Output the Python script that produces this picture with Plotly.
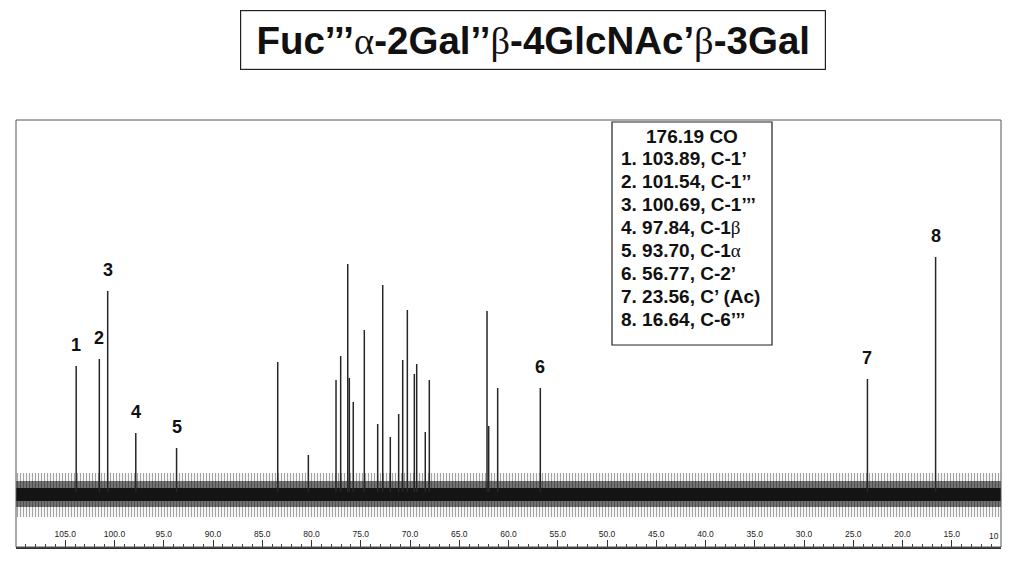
import plotly.graph_objects as go

# ---------------- data ----------------
peak_labels = ["1", "2", "3", "4", "5", "6", "7", "8"]
peak_ppm = [103.89, 101.54, 100.69, 97.84, 93.70, 56.77, 23.56, 16.64]
peak_height = [126, 133, 201, 59, 44, 104, 113, 235]

other_ppm = [83.43, 80.32, 77.51, 77.04, 76.32, 76.16, 75.76, 74.64, 73.28, 72.77,
             72.00, 71.15, 70.74, 70.27, 69.56, 69.32, 68.45, 68.04, 62.18, 62.01, 61.10]
other_height = [130, 37, 112, 136, 228, 114, 90, 162, 68, 207,
                55, 78, 132, 182, 118, 128, 60, 112, 181, 66, 104]

GREEK = "<span style='font-family:Liberation Serif;font-weight:normal'>{}</span>"
title_text = ("Fuc’’’" + GREEK.format("α") + "-2Gal’’" + GREEK.format("β")
              + "-4GlcNAc’" + GREEK.format("β") + "-3Gal")

assign_header = "176.19 CO"
assign_lines = [
    "1. 103.89, C-1’",
    "2. 101.54, C-1’’",
    "3. 100.69, C-1’’’",
    "4. 97.84, C-1" + GREEK.format("β"),
    "5. 93.70, C-1" + GREEK.format("α"),
    "6. 56.77, C-2’",
    "7. 23.56, C’ (Ac)",
    "8. 16.64, C-6’’’",
]

tick_vals = [105, 100, 95, 90, 85, 80, 75, 70, 65, 60, 55, 50, 45, 40, 35, 30, 25, 20, 15, 10]
tick_text = ["105.0", "100.0", "95.0", "90.0", "85.0", "80.0", "75.0", "70.0", "65.0", "60.0",
             "55.0", "50.0", "45.0", "40.0", "35.0", "30.0", "25.0", "20.0", "15.0", "10"]

x_range = [110, 10]
y_range = [-55, 372]
# baseline-noise envelope (outer spikes, dense part, solid core)
noise_outer = (-25, 19)
noise_mid = (-15, 11)
noise_inner = (-9, 4)

# ---------------- figure ----------------
# the page body has an 8 px margin; lay out in window pixels
OFF = 8
W, H = 1024 - 2 * OFF, 565 - 2 * OFF
def px(x):
    return (x - OFF) / W
def py(y):
    return 1 - (y - OFF) / H

FONT = "Arial, Liberation Sans"
fig = go.Figure()

def band(lo_hi, color, pattern=None):
    lo, hi = lo_hi
    kw = {}
    if pattern:
        kw["fillpattern"] = pattern
    fig.add_trace(go.Scatter(
        x=[x_range[0], x_range[1], x_range[1], x_range[0], x_range[0]],
        y=[lo, lo, hi, hi, lo], fill="toself", fillcolor=color,
        line=dict(width=0), mode="lines", hoverinfo="skip", showlegend=False, **kw))

band(noise_outer, "#ffffff", dict(shape="|", size=3, solidity=0.4,
                                  fgcolor="#4a4a4a", bgcolor="#ffffff"))
band(noise_mid, "#505050", dict(shape="|", size=3, solidity=0.6,
                                fgcolor="#111111", bgcolor="#8a8a8a"))
band(noise_inner, "#141414")

def sticks(ppm, hts):
    xs, ys = [], []
    for p, h in zip(ppm, hts):
        xs += [p, p, None]
        ys += [0, h, None]
    return xs, ys

xs, ys = sticks(other_ppm + peak_ppm, other_height + peak_height)
fig.add_trace(go.Scatter(x=xs, y=ys, mode="lines",
                         line=dict(color="#262626", width=1.5),
                         hoverinfo="skip", showlegend=False))

annotations = []
for lab, p, h in zip(peak_labels, peak_ppm, peak_height):
    annotations.append(dict(x=p, y=h + 21, xref="x", yref="y", text=lab,
                            showarrow=False, yanchor="middle",
                            font=dict(family=FONT, size=18, color="#111", weight="bold")))

# last (cut-off) tick label at the right edge of the frame
annotations.append(dict(x=tick_vals[-1], y=0, xref="x", yref="y domain",
                        text=tick_text[-1], showarrow=False,
                        xanchor="right", yanchor="bottom", yshift=4,
                        font=dict(family=FONT, size=8.5, color="#222")))

# Title box
annotations.append(dict(x=px(533), y=py(10), xref="paper", yref="paper",
                        xanchor="center", yanchor="top",
                        text=title_text, showarrow=False,
                        width=572, height=46, borderpad=6,
                        bordercolor="#222", borderwidth=1.2,
                        font=dict(family=FONT, size=38.5, color="#111", weight="bold")))

# Assignment list
annotations.append(dict(x=px(692), y=py(136), xref="paper", yref="paper",
                        text=assign_header, showarrow=False,
                        xanchor="center", yanchor="middle",
                        font=dict(family=FONT, size=19, color="#111", weight="bold")))
for i, line in enumerate(assign_lines):
    annotations.append(dict(x=px(619), y=py(158 + 23 * i),
                            xref="paper", yref="paper", text=line,
                            showarrow=False, xanchor="left", yanchor="middle",
                            font=dict(family=FONT, size=19, color="#111", weight="bold")))

shapes = [
    dict(type="rect", xref="x domain", yref="y domain", x0=0, x1=1, y0=0, y1=1,
         line=dict(color="#555", width=1)),
    dict(type="rect", xref="paper", yref="paper",
         x0=px(612), x1=px(772), y0=py(345), y1=py(122),
         line=dict(color="#222", width=1.2), fillcolor="white", layer="above"),
]

fig.update_layout(
    width=W, height=H, margin=dict(l=0, r=0, t=0, b=0),
    paper_bgcolor="white", plot_bgcolor="white",
    showlegend=False, annotations=annotations, shapes=shapes,
    xaxis=dict(domain=[px(16), px(1001)], range=x_range,
               showgrid=False, zeroline=False,
               showline=True, linecolor="#333", linewidth=2,
               ticks="inside", ticklen=7, tickcolor="#333", tickwidth=1,
               ticklabelposition="inside",
               tickvals=tick_vals, ticktext=tick_text,
               tickfont=dict(family=FONT, size=8.5, color="#222"),
               minor=dict(dtick=1, tick0=0, ticks="inside", ticklen=3,
                          tickcolor="#444", tickwidth=1, showgrid=False)),
    yaxis=dict(domain=[py(547), py(120)], range=y_range,
               visible=False, showgrid=False, zeroline=False),
)

fig.write_html("out.html")
